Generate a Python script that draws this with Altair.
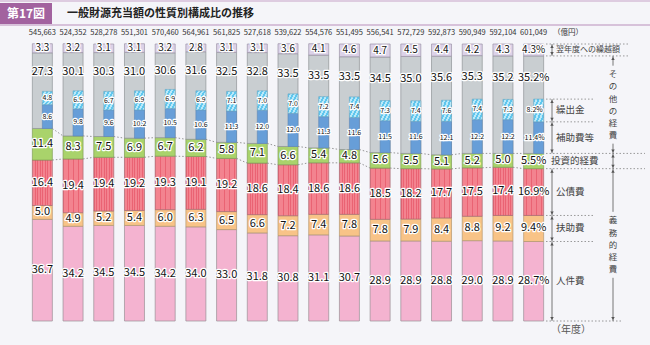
import altair as alt
import pandas as pd

FONT = "Noto Sans CJK JP"

years = ["10", "15", "16", "17", "18", "19", "20", "21", "22", "23", "24", "25", "26", "27", "28", "29", "30"]
totals = ["545,663", "524,352", "528,278", "551,301", "570,460", "564,961", "561,825", "527,618", "539,622",
          "554,576", "551,495", "556,541", "572,729", "592,873", "590,949", "592,104", "601,049"]
kurikoshi = [3.3, 3.2, 3.1, 3.1, 3.2, 2.8, 3.1, 3.1, 3.6, 4.1, 4.6, 4.7, 4.5, 4.4, 4.2, 4.3, 4.3]
sonota = [27.3, 30.1, 30.3, 31.0, 30.6, 31.6, 32.5, 32.8, 33.5, 33.5, 33.5, 34.5, 35.0, 35.6, 35.3, 35.2, 35.2]
kuridashi = [4.8, 6.5, 6.7, 6.9, 6.9, 6.9, 7.1, 7.0, 7.0, 7.2, 7.4, 7.3, 7.4, 7.6, 7.4, 7.3, 8.2]
hojo = [8.6, 9.8, 9.6, 10.2, 10.5, 10.6, 11.3, 12.0, 12.0, 11.3, 11.6, 11.5, 11.6, 12.1, 12.2, 12.2, 11.4]
toshi = [11.4, 8.3, 7.5, 6.9, 6.7, 6.2, 5.8, 7.1, 6.6, 5.4, 4.8, 5.6, 5.5, 5.1, 5.2, 5.0, 5.5]
kosai = [16.4, 19.4, 19.4, 19.2, 19.3, 19.1, 19.2, 18.6, 18.4, 18.6, 18.6, 18.5, 18.2, 17.7, 17.5, 17.4, 16.9]
fujo = [5.0, 4.9, 5.2, 5.4, 6.0, 6.3, 6.5, 6.6, 7.2, 7.4, 7.8, 7.8, 7.9, 8.4, 8.8, 9.2, 9.4]
jinken = [36.7, 34.2, 34.5, 34.5, 34.2, 34.0, 33.0, 31.8, 30.8, 31.1, 30.7, 28.9, 28.9, 28.8, 29.0, 28.9, 28.7]

title_box = "第17図"
title_text = "一般財源充当額の性質別構成比の推移"

n = len(years)
seg_rows = []
con_rows = []
for i, yr in enumerate(years):
    last = i == n - 1

    def fmt(v, last=last):
        return f"{v:.1f}%" if last else f"{v:.1f}"

    c = 0.0
    for key, vals in [("jinken", jinken), ("fujo", fujo), ("kosai", kosai), ("toshi", toshi)]:
        v = vals[i]
        seg_rows.append(dict(year=yr, cat=key, y0=c, y1=c + v, ly=c + v / 2, lab=fmt(v), kind="main", last=last))
        c += v
    base = c
    inner_top = base + hojo[i] + kuridashi[i]
    top_s = base + sonota[i]
    seg_rows.append(dict(year=yr, cat="sonota", y0=base, y1=top_s, ly=(inner_top + top_s) / 2,
                         lab=fmt(sonota[i]), kind="main", last=last))
    seg_rows.append(dict(year=yr, cat="kurikoshi", y0=top_s, y1=top_s + kurikoshi[i],
                         ly=top_s + kurikoshi[i] / 2, lab=fmt(kurikoshi[i]), kind="top", last=last))
    seg_rows.append(dict(year=yr, cat="hojo", y0=base, y1=base + hojo[i], ly=base + hojo[i] / 2,
                         lab=fmt(hojo[i]), kind="inner", last=last))
    seg_rows.append(dict(year=yr, cat="kuridashi", y0=base + hojo[i], y1=inner_top,
                         ly=base + hojo[i] + kuridashi[i] / 2, lab=fmt(kuridashi[i]), kind="inner", last=last))

seg = pd.DataFrame(seg_rows)

for i in range(n - 1):
    b_i = jinken[i] + fujo[i] + kosai[i]
    b_j = jinken[i + 1] + fujo[i + 1] + kosai[i + 1]
    con_rows.append(dict(year=years[i], year2=years[i + 1], a=b_i, b=b_j))
    con_rows.append(dict(year=years[i], year2=years[i + 1], a=b_i + toshi[i], b=b_j + toshi[i + 1]))
con = pd.DataFrame(con_rows)

tot = pd.DataFrame({"year": years, "total": totals})

ys = alt.Scale(domain=[0, 100], nice=False, zero=True)


def X(field="year", axis=None):
    return alt.X(f"{field}:O", sort=years, scale=alt.Scale(type="point", padding=0.5), axis=axis)


def stripes(c1, c2, k, frac, x2=1, y2=0):
    stops = []
    for j in range(k):
        a = round(j / k, 4)
        b = round((j + frac) / k, 4)
        e = min(1.0, round((j + 1) / k, 4))
        stops += [alt.GradientStop(color=c1, offset=a), alt.GradientStop(color=c1, offset=b),
                  alt.GradientStop(color=c2, offset=b), alt.GradientStop(color=c2, offset=e)]
    return alt.Gradient(gradient="linear", stops=stops, x1=0, y1=0, x2=x2, y2=y2)


fills = {
    "jinken": "#f4b3d0",
    "fujo": "#f8c387",
    "kosai": stripes("#ea6373", "#f3838f", 8, 0.3),
    "toshi": "#a9d36b",
    "sonota": "#c9ced1",
    "kurikoshi": "#dcd2e8",
    "hojo": "#679ed8",
    "kuridashi": stripes("#5fc6ee", "#b9e9f9", 5, 0.5, x2=1, y2=1),
}
strokes = {
    "jinken": "#9a8f95", "fujo": "#b59870", "kosai": "#a86a72", "toshi": "#7f9e55",
    "sonota": "#8f9497", "kurikoshi": "#9c93a8", "hojo": "#5d86b5", "kuridashi": "#6aa9c4",
}

layers = []
axis_x = alt.Axis(title=None, domain=False, ticks=False, labelAngle=0, labelFontSize=10.5,
                  labelColor="#555555", labelPadding=4, labelFont=FONT)

first = True
for cat in ["jinken", "fujo", "kosai", "toshi", "sonota", "kurikoshi"]:
    layers.append(
        alt.Chart(seg[seg["cat"] == cat]).mark_bar(width=20, fill=fills[cat], stroke=strokes[cat], strokeWidth=0.7)
        .encode(x=X(axis=axis_x if first else None), y=alt.Y("y0:Q", scale=ys, axis=None), y2="y1:Q")
    )
    first = False
for cat in ["hojo", "kuridashi"]:
    layers.append(
        alt.Chart(seg[seg["cat"] == cat]).mark_bar(width=10, xOffset=5, fill=fills[cat], stroke=strokes[cat], strokeWidth=0.6)
        .encode(x=X(), y=alt.Y("y0:Q", scale=ys, axis=None), y2="y1:Q")
    )

# connector dotted lines
layers.append(
    alt.Chart(con).mark_rule(xOffset=10, x2Offset=-10, strokeDash=[1.5, 2], color="#8a8a8a", strokeWidth=0.9)
    .encode(x=X(), x2="year2", y=alt.Y("a:Q", scale=ys, axis=None), y2="b:Q")
)

# labels
main_lab = seg[seg["kind"] == "main"]
top_lab = seg[seg["kind"] == "top"]
inner_lab = seg[(seg["kind"] == "inner") & (~seg["last"])]
inner_last = seg[(seg["kind"] == "inner") & (seg["last"])]

for d, fs, xo, dx in [(main_lab, 11, 0, 0), (top_lab, 10, 0, 0), (inner_lab, 7, 5, 0), (inner_last, 7, 5, -4)]:
    for halo in (True, False):
        kw = dict(font=FONT, fontSize=fs, baseline="middle", align="center", xOffset=xo, dx=dx)
        if halo:
            kw.update(fill="white", stroke="white", strokeWidth=2.5, strokeJoin="round")
        else:
            kw.update(fill="#111111")
        layers.append(
            alt.Chart(d).mark_text(**kw).encode(x=X(), y=alt.Y("ly:Q", scale=ys, axis=None), text="lab:N")
        )

# totals
layers.append(
    alt.Chart(tot).mark_text(font=FONT, fontSize=7.5, color="#333333", baseline="middle")
    .encode(x=X(), y=alt.value(-11), text="total:N")
)

# right-side annotations, from the last bar's boundaries
L = n - 1
b0 = 0.0
b1 = jinken[L]
b2 = b1 + fujo[L]
b3 = b2 + kosai[L]
b4 = b3 + toshi[L]
b5 = b4 + hojo[L]
b6 = b5 + kuridashi[L]
b7 = b4 + sonota[L]
b8 = b7 + kurikoshi[L]

one = pd.DataFrame({"k": [0]})


def hlines(vals, x1, x2):
    return alt.Chart(pd.DataFrame({"v": vals})).mark_rule(strokeDash=[1.5, 2], color="#8f8f8f", strokeWidth=0.9).encode(
        y=alt.Y("v:Q", scale=ys, axis=None), x=alt.value(x1), x2=alt.value(x2))


layers += [hlines([b8, b7], 519, 601), hlines([b4, b3], 519, 618), hlines([b0], 519, 595),
           hlines([b6, b5, b2, b1], 519, 568)]


def arrows(pairs, xpx):
    d = pd.DataFrame(pairs, columns=["lo", "hi"])
    r = alt.Chart(d).mark_rule(color="#555555", strokeWidth=0.8).encode(
        x=alt.value(xpx), y=alt.Y("hi:Q", scale=ys, axis=None), y2="lo:Q")
    up = alt.Chart(d).mark_point(shape="triangle-up", filled=True, size=12, color="#555555", yOffset=2.5, opacity=1).encode(
        x=alt.value(xpx), y=alt.Y("hi:Q", scale=ys, axis=None))
    dn = alt.Chart(d).mark_point(shape="triangle-down", filled=True, size=12, color="#555555", yOffset=-2.5, opacity=1).encode(
        x=alt.value(xpx), y=alt.Y("lo:Q", scale=ys, axis=None))
    return [r, up, dn]


layers += arrows([(b7, b8), (b5, b6), (b4, b5), (b2, b3), (b1, b2), (b0, b1)], 525)

# big group arrows with gaps for the vertical text
FSV = 8.5
LH = 12.3
big = pd.DataFrame([(b4, b7, (b4 + b7) / 2, "その他の経費", 39), (b0, b3, (b0 + b3) / 2, "義務的経費", 33)],
                   columns=["lo", "hi", "mid", "txt", "gap"])
for _, row in big.iterrows():
    d = pd.DataFrame([row])
    nl = len(row["txt"])
    layers.append(alt.Chart(d).mark_rule(color="#555555", strokeWidth=0.8, y2Offset=-row["gap"]).encode(
        x=alt.value(586), y=alt.Y("hi:Q", scale=ys, axis=None), y2="mid:Q"))
    layers.append(alt.Chart(d).mark_rule(color="#555555", strokeWidth=0.8, yOffset=row["gap"]).encode(
        x=alt.value(586), y=alt.Y("mid:Q", scale=ys, axis=None), y2="lo:Q"))
    layers.append(alt.Chart(d).mark_point(shape="triangle-up", filled=True, size=12, color="#555555", yOffset=2.5, opacity=1).encode(
        x=alt.value(586), y=alt.Y("hi:Q", scale=ys, axis=None)))
    layers.append(alt.Chart(d).mark_point(shape="triangle-down", filled=True, size=12, color="#555555", yOffset=-2.5, opacity=1).encode(
        x=alt.value(586), y=alt.Y("lo:Q", scale=ys, axis=None)))
    layers.append(alt.Chart(d.assign(v="\n".join(list(row["txt"])))).mark_text(
        font=FONT, fontSize=FSV, lineHeight=LH, lineBreak="\n", color="#444444", align="center", baseline="middle",
        dy=-(nl - 1) * LH / 2).encode(
        x=alt.value(586), y=alt.Y("mid:Q", scale=ys, axis=None), text="v:N"))
layers += arrows([(b3, b4)], 586)

# category labels on the right
cat_lab = pd.DataFrame({
    "txt": ["繰出金", "補助費等", "公債費", "扶助費", "人件費"],
    "v": [(b5 + b6) / 2, (b4 + b5) / 2, (b2 + b3) / 2, (b1 + b2) / 2, (b0 + b1) / 2],
})
layers.append(alt.Chart(cat_lab).mark_text(font=FONT, fontSize=9.5, color="#444444", align="left", baseline="middle").encode(
    x=alt.value(529), y=alt.Y("v:Q", scale=ys, axis=None), text="txt:N"))
layers.append(alt.Chart(pd.DataFrame({"txt": ["投資的経費"], "v": [(b3 + b4) / 2]})).mark_text(
    font=FONT, fontSize=9.5, color="#444444", align="left", baseline="middle").encode(
    x=alt.value(524), y=alt.Y("v:Q", scale=ys, axis=None), text="txt:N"))
layers.append(alt.Chart(pd.DataFrame({"txt": ["翌年度への繰越額"], "v": [(b7 + b8) / 2]})).mark_text(
    font=FONT, fontSize=8, color="#444444", align="left", baseline="middle").encode(
    x=alt.value(529), y=alt.Y("v:Q", scale=ys, axis=None), text="txt:N"))

# unit labels
layers.append(alt.Chart(one).mark_text(font=FONT, fontSize=7.5, color="#333333", align="left", baseline="middle").encode(
    x=alt.value(526), y=alt.value(-11), text=alt.value("（億円）")))
layers.append(alt.Chart(one).mark_text(font=FONT, fontSize=10, color="#555555", align="left", baseline="middle").encode(
    x=alt.value(524), y=alt.value(286), text=alt.value("（年度）")))

# title band
layers.append(alt.Chart(one).mark_rule(color="#c7a3c8", strokeWidth=1).encode(
    x=alt.value(-27), x2=alt.value(623), y=alt.value(-43)))
layers.append(alt.Chart(one).mark_rule(color="#b98fbb", strokeWidth=1).encode(
    x=alt.value(-27), x2=alt.value(623), y=alt.value(-19)))
layers.append(alt.Chart(one).mark_rect(color="#a2629f").encode(
    x=alt.value(-27), x2=alt.value(25), y=alt.value(-41), y2=alt.value(-20)))
layers.append(alt.Chart(one).mark_text(font=FONT, fontSize=12, fontWeight="bold", color="white", align="center", baseline="middle").encode(
    x=alt.value(-1), y=alt.value(-30.5), text=alt.value(title_box)))
layers.append(alt.Chart(one).mark_text(font=FONT, fontSize=11, fontWeight="bold", color="#222222", align="left", baseline="middle").encode(
    x=alt.value(40), y=alt.value(-30.5), text=alt.value(title_text)))

chart = alt.layer(*layers).properties(
    width=522, height=277,
    padding={"left": 27, "top": 44, "right": 101, "bottom": 24},
    autosize=alt.AutoSizeParams(type="none"),
    background="#f5f5f9",
).configure_view(stroke=None)

chart.save("out.html", embed_options={"renderer": "svg", "actions": False})
